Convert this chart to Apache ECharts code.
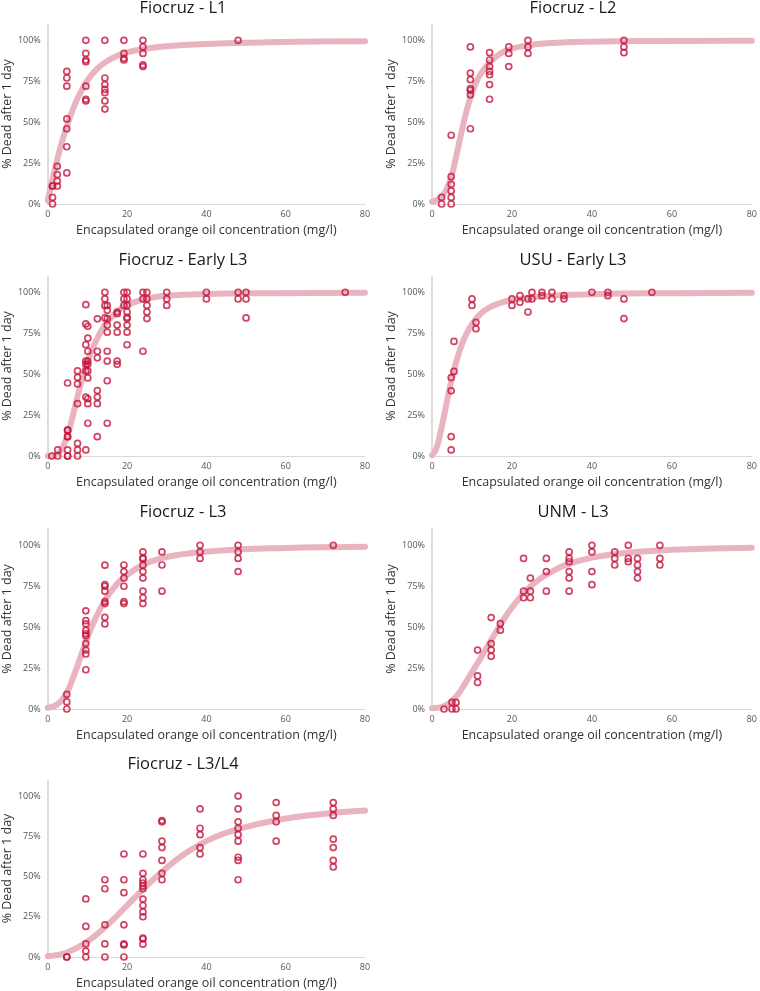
<!DOCTYPE html>
<html>
<head>
<meta charset="utf-8">
<script src="https://cdn.jsdelivr.net/npm/echarts@6/dist/echarts.min.js"></script>
<style>
  html, body { margin: 0; padding: 0; background: #fff; }
  #chart { width: 760px; height: 991px; }
</style>
</head>
<body>
<div id="chart"></div>
<script>
// observed points [concentration mg/l, % dead]
const l1Obs = [
  [1.2, 0], [1.2, 4], [1.2, 11], [1.2, 11],
  [2.4, 11], [2.4, 14], [2.4, 18], [2.4, 23],
  [4.8, 19], [4.8, 35], [4.8, 46], [4.8, 52], [4.8, 72], [4.8, 77], [4.8, 81],
  [9.6, 63], [9.6, 64], [9.6, 72], [9.6, 87], [9.6, 88], [9.6, 92], [9.6, 100],
  [14.4, 58], [14.4, 63], [14.4, 68], [14.4, 70], [14.4, 73], [14.4, 77], [14.4, 100],
  [19.2, 88], [19.2, 89], [19.2, 92], [19.2, 100],
  [24, 84], [24, 85], [24, 92], [24, 96], [24, 100],
  [48, 100]
];
// fitted curve
const l1Fit = [[0, 2], [1, 13], [2, 23.5], [3, 33], [4, 41.5], [5, 49], [6, 55.8], [7, 61.8], [8, 67], [10, 75.5], [12, 81.5], [14, 85.8], [17, 90], [20, 92.6], [24, 94.6], [30, 96.4], [40, 97.8], [55, 98.8], [80, 99.4]];

const l2Obs = [
  [2.4, 0], [2.4, 4],
  [4.8, 0], [4.8, 4], [4.8, 8], [4.8, 12], [4.8, 16.7], [4.8, 42],
  [9.6, 46], [9.6, 66.7], [9.6, 69.5], [9.6, 70.5], [9.6, 76], [9.6, 80], [9.6, 96],
  [14.4, 64], [14.4, 73], [14.4, 79], [14.4, 81], [14.4, 84], [14.4, 88], [14.4, 92.5],
  [19.2, 84], [19.2, 92], [19.2, 96],
  [24, 92], [24, 96], [24, 100],
  [48, 92.5], [48, 96], [48, 100]
];
const l2Fit = [[0, 1.4], [1.2, 2.5], [2.4, 4.5], [3.6, 8.7], [4.8, 16.5], [6, 28.5], [7.2, 42], [8.4, 54.5], [9.6, 65], [10.8, 73], [12, 78.8], [14.4, 86.5], [16.8, 91.5], [19.2, 94.4], [24, 97], [30, 98.4], [40, 99.2], [55, 99.6], [80, 99.8]];

const earlyL3Obs = [
  [1, 0],
  [2.5, 0], [2.5, 3.7],
  [5, 0], [5, 0], [5, 3.7], [5, 11.8], [5, 11.8], [5, 15.8], [5, 15.8], [5, 44.6],
  [7.5, 0], [7.5, 3.7], [7.5, 7.7], [7.5, 32], [7.5, 44], [7.5, 48], [7.5, 52],
  [9.6, 3.7], [9.6, 36], [9.6, 52], [9.6, 56], [9.6, 58], [9.6, 68], [9.6, 80.7], [9.6, 92.5],
  [10.1, 20], [10.1, 32], [10.1, 35], [10.1, 47.7], [10.1, 52], [10.1, 56], [10.1, 58], [10.1, 64], [10.1, 72], [10.1, 79.3],
  [12.5, 11.8], [12.5, 32], [12.5, 36], [12.5, 40], [12.5, 60], [12.5, 64], [12.5, 83.8],
  [14.4, 84.4], [14.4, 92], [14.4, 96], [14.4, 100],
  [15, 20], [15, 46], [15, 58], [15, 64], [15, 75.7], [15, 80], [15, 84], [15, 89], [15, 92],
  [17.5, 56], [17.5, 58], [17.5, 75.7], [17.5, 80], [17.5, 87], [17.5, 88],
  [19.2, 92], [19.2, 96], [19.2, 100],
  [20, 68], [20, 75.7], [20, 80], [20, 84], [20, 84.8], [20, 88], [20, 92], [20, 96], [20, 100],
  [24, 64], [24, 96], [24, 100],
  [25, 84], [25, 88], [25, 92], [25, 96], [25, 100],
  [30, 92], [30, 96], [30, 100],
  [40, 96], [40, 100],
  [48, 96], [48, 100],
  [50, 84.4], [50, 96], [50, 100],
  [75, 100]
];
const earlyL3Fit = [[0, 0], [1, 0.2], [2, 0.8], [3, 2.5], [4, 6.5], [5, 12.8], [6, 21.5], [7, 31.5], [8, 41], [9, 50], [10, 57.5], [11, 64], [12.5, 72], [14, 78.5], [15, 82], [17.5, 88.2], [20, 92.3], [25, 96.2], [30, 97.9], [40, 99], [55, 99.5], [80, 99.7]];

const usuObs = [
  [4.8, 3.7], [4.8, 11.8], [4.8, 39.8], [4.8, 47.9],
  [5.5, 51.7], [5.5, 70],
  [10, 92], [10, 96],
  [11, 77.7], [11, 81.7],
  [20, 92], [20, 96],
  [22, 94], [22, 98],
  [24, 88], [24, 96],
  [25, 96], [25, 100],
  [27.5, 98], [27.5, 100],
  [30, 96], [30, 100],
  [33, 96], [33, 98],
  [40, 100],
  [44, 98], [44, 100],
  [48, 84], [48, 96],
  [55, 100]
];
const usuFit = [[0, 0.5], [1, 4], [2, 13], [3, 24.5], [4, 36.5], [5, 47.5], [6, 57], [7, 65], [8, 71.5], [9, 76.5], [10, 80.5], [12, 86.5], [14, 90.3], [17, 93.5], [20, 95.3], [25, 97], [30, 98], [40, 98.9], [60, 99.5], [80, 99.7]];

const l3Obs = [
  [4.8, 0], [4.8, 4.3], [4.8, 8.9],
  [9.6, 24], [9.6, 33.6], [9.6, 36], [9.6, 40], [9.6, 44.7], [9.6, 46], [9.6, 48], [9.6, 52], [9.6, 54], [9.6, 60],
  [14.4, 52], [14.4, 56], [14.4, 64.4], [14.4, 65.6], [14.4, 72], [14.4, 75], [14.4, 76], [14.4, 87.9],
  [19.2, 64.4], [19.2, 65.6], [19.2, 75], [19.2, 80], [19.2, 84], [19.2, 88],
  [24, 64.4], [24, 68], [24, 72], [24, 80], [24, 84], [24, 87.9], [24, 91.7], [24, 92.3], [24, 96],
  [28.8, 72], [28.8, 88], [28.8, 96],
  [38.4, 92], [38.4, 96], [38.4, 100],
  [48, 84], [48, 92], [48, 96], [48, 100],
  [72, 100]
];
const l3Fit = [[0, 0.8], [2.4, 2.8], [4.8, 10], [6, 16.8], [7.2, 24.5], [8.4, 32.8], [9.6, 41], [10.8, 48.5], [12, 55.2], [14.4, 66.3], [16.8, 74.5], [19.2, 80.5], [24, 88], [28.8, 92.2], [33.6, 94.5], [38.4, 95.9], [48, 97.5], [60, 98.4], [72, 98.9], [80, 99.1]];

const unmObs = [
  [3, 0],
  [5, 0], [5, 4],
  [6, 0], [6, 4],
  [11.4, 16.2], [11.4, 20.2], [11.4, 36],
  [14.8, 32.2], [14.8, 36], [14.8, 40], [14.8, 55.9],
  [17.1, 48.2], [17.1, 52.2],
  [22.9, 68], [22.9, 72], [22.9, 92],
  [24.6, 68], [24.6, 72], [24.6, 80],
  [28.6, 72], [28.6, 84], [28.6, 92],
  [34.3, 72], [34.3, 80], [34.3, 84], [34.3, 90], [34.3, 92], [34.3, 96],
  [40, 76], [40, 84], [40, 96], [40, 100],
  [45.7, 88], [45.7, 92], [45.7, 96],
  [49.1, 90], [49.1, 92], [49.1, 100],
  [51.4, 80], [51.4, 84], [51.4, 88], [51.4, 92],
  [57, 88], [57, 92], [57, 100]
];
const unmFit = [[0, 0.5], [2, 1], [4, 3], [6, 7.5], [8, 14.5], [10, 22.5], [12, 30.5], [14, 38.8], [16, 47], [18, 55], [20, 62], [22, 68.2], [24, 73.5], [27, 79.5], [30, 84], [34, 88.5], [40, 92.5], [48, 95.3], [60, 97.3], [80, 98.6]];

const l3l4Obs = [
  [4.8, 0], [4.8, 0],
  [9.6, 0], [9.6, 3.7], [9.6, 8.1], [9.6, 19], [9.6, 36.1],
  [14.4, 0], [14.4, 8.1], [14.4, 20], [14.4, 42.4], [14.4, 48],
  [19.2, 0], [19.2, 7.5], [19.2, 8.1], [19.2, 20], [19.2, 40], [19.2, 48], [19.2, 64],
  [24, 8], [24, 11.2], [24, 11.8], [24, 25], [24, 28], [24, 32], [24, 36], [24, 42.4], [24, 44], [24, 46], [24, 48], [24, 52], [24, 64],
  [28.8, 48], [28.8, 52], [28.8, 60], [28.8, 68], [28.8, 72], [28.8, 84], [28.8, 84.8],
  [38.4, 64], [38.4, 68], [38.4, 76], [38.4, 80], [38.4, 92],
  [48, 48], [48, 60], [48, 62], [48, 72], [48, 76], [48, 80], [48, 84], [48, 92], [48, 100],
  [57.6, 72], [57.6, 84], [57.6, 88], [57.6, 96],
  [72, 56], [72, 60], [72, 68], [72, 73.2], [72, 88], [72, 92], [72, 96]
];
const l3l4Fit = [[0, 0.5], [4.8, 2.8], [9.6, 9], [14.4, 18.5], [19.2, 30], [24, 42], [28.8, 53], [33.6, 62.5], [38.4, 70], [43.2, 75.5], [48, 79.5], [57.6, 85], [67, 88.3], [80, 91]];

const titles = ['Fiocruz - L1', 'Fiocruz - L2', 'Fiocruz - Early L3', 'USU - Early L3', 'Fiocruz - L3', 'UNM - L3', 'Fiocruz - L3/L4'];
const obsSets = [l1Obs, l2Obs, earlyL3Obs, usuObs, l3Obs, unmObs, l3l4Obs];
const fitSets = [l1Fit, l2Fit, earlyL3Fit, usuFit, l3Fit, unmFit, l3l4Fit];
const xTicks = [0, 20, 40, 60, 80];
const yTicks = [0, 25, 50, 75, 100];

const xName = 'Encapsulated orange oil concentration (mg/l)';
const yName = '% Dead after 1 day';

// layout
const colLeft = [43, 432];
const colWidth = [322, 323];
const colTitleX = [183, 573];
const rowTop = [24, 276, 529, 780];
const rowTitleY = [7, 259, 511, 763];
const plotH = 180;

const FONT = '"Open Sans", "Noto Sans", sans-serif';
const dotColor = '#c4173d';
const fitColor = '#e9b4c0';

const option = {
  backgroundColor: '#fff',
  animation: false,
  textStyle: { fontFamily: FONT },
  title: [],
  grid: [],
  xAxis: [],
  yAxis: [],
  series: []
};

titles.forEach((t, i) => {
  const col = i % 2, row = Math.floor(i / 2);
  option.title.push({
    text: t,
    left: colTitleX[col],
    top: Math.max(0, rowTitleY[row] - 7),
    textAlign: 'center',
    padding: 0,
    textStyle: { fontFamily: FONT, fontSize: 16.5, fontWeight: 'normal', color: '#1a1a1a' }
  });
  option.grid.push({ left: colLeft[col], top: rowTop[row], width: colWidth[col], height: plotH });
  option.xAxis.push({
    gridIndex: i,
    type: 'value',
    min: 0, max: 80, interval: 20,
    name: xName,
    nameLocation: 'middle',
    nameGap: 20,
    nameTextStyle: { fontFamily: FONT, fontSize: 12.5, color: '#333' },
    axisLine: { lineStyle: { color: '#d9d9d9', width: 1 } },
    axisTick: { show: false },
    splitLine: { show: false },
    axisLabel: {
      fontFamily: FONT, fontSize: 9, color: '#555', margin: 6,
      formatter: v => xTicks.includes(v) ? String(v) : ''
    }
  });
  option.yAxis.push({
    gridIndex: i,
    type: 'value',
    min: 0, max: 110, interval: 25,
    name: yName,
    nameLocation: 'middle',
    nameGap: 30,
    nameTextStyle: { fontFamily: FONT, fontSize: 12.5, color: '#333' },
    axisLine: { show: true, lineStyle: { color: '#dcdcdc', width: 2 } },
    axisTick: { show: false },
    splitLine: { show: false },
    axisLabel: {
      fontFamily: FONT, fontSize: 9, color: '#555', margin: 7,
      formatter: v => yTicks.includes(v) ? v + '%' : ''
    }
  });
  option.series.push({
    type: 'line',
    xAxisIndex: i, yAxisIndex: i,
    data: fitSets[i],
    smooth: 0.5,
    symbol: 'none',
    z: 1,
    lineStyle: { color: fitColor, width: 6, cap: 'round' }
  });
  option.series.push({
    type: 'scatter',
    xAxisIndex: i, yAxisIndex: i,
    data: obsSets[i],
    symbol: 'circle',
    symbolSize: 6,
    z: 3,
    itemStyle: { color: 'rgba(255,255,255,0)', borderColor: dotColor, borderWidth: 1.7 }
  });
});

const chart = echarts.init(document.getElementById('chart'));
chart.setOption(option);
window.addEventListener('resize', () => chart.resize());
</script>
</body>
</html>
